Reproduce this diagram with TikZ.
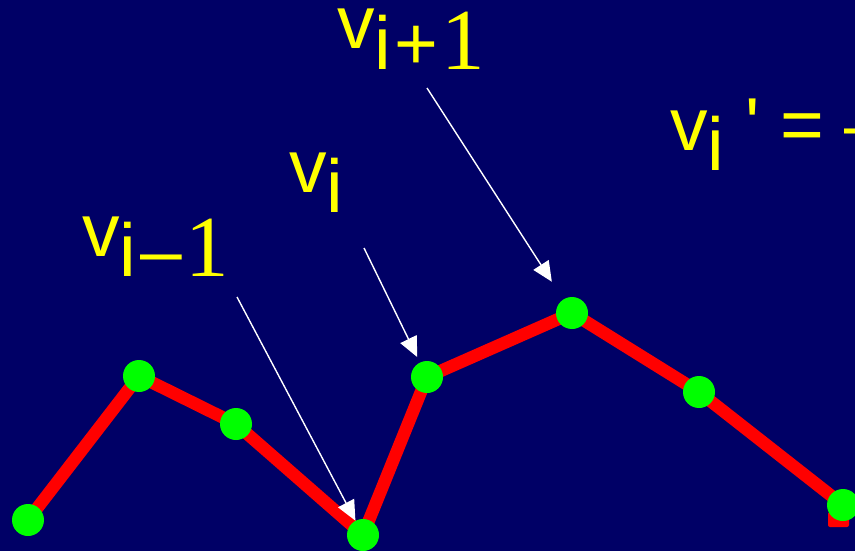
\documentclass[tikz,border=0pt]{standalone}
\usepackage{fontspec}
\usepackage{tikz}
\usetikzlibrary{
  arrows.meta,   % Triangle 箭头
  positioning    % 节点定位
}
\newfontfamily\labsans{Liberation Sans}
\newfontfamily\labserif{Liberation Serif}
\definecolor{slidebg}{RGB}{0,0,102}
\definecolor{dotgreen}{RGB}{0,255,0}
\definecolor{labyellow}{RGB}{255,255,0}
% 下标下沉
\newcommand{\lowsub}[1]{\raisebox{-20.5pt}{#1}}
\newcommand{\bigone}{{\labserif\fontsize{87}{87}\selectfont 1}}

\begin{document}
\begin{tikzpicture}[x=1pt, y=-1pt,
  redline/.style={line width=12.5pt, red, line join=miter},
  vdot/.style={circle, fill=dotgreen, minimum size=32pt, inner sep=0pt},
  ptr/.style={white, line width=1.4pt, -{Triangle[length=20pt, width=18pt]}},
  lab/.style={anchor=base west, inner sep=0pt, text=labyellow,
    font=\labsans\fontsize{75}{75}\selectfont}]
  % === 背景 ===
  \useasboundingbox (0,0) rectangle (855,551);
  \fill[slidebg] (0,0) rectangle (855,551);
  \clip (0,0) rectangle (855,551);

  % === 折线顶点 ===
  \coordinate (p1) at (28,520);
  \coordinate (p2) at (139,376);
  \coordinate (p3) at (236,424);
  \coordinate (p4) at (363,535);
  \coordinate (p5) at (427,377);
  \coordinate (p6) at (572,313);
  \coordinate (p7) at (699,392);
  \coordinate (p8) at (843,505);

  % 红色折线
  \draw[redline] (p1) -- (p2) -- (p3) -- (p4) -- (p5) -- (p6) -- (p7) -- (p8);
  \fill[red, rounded corners=2pt] (828,512) rectangle (849,527);

  % 绿色顶点
  \foreach \k in {1,...,8}
    \node[vdot] (v\k) at (p\k) {};

  % === 标签 ===
  \node[lab] (lprev) at (82,256) {v\lowsub{i\kern4pt–\kern3pt\bigone}};
  \node[lab] (lcur)  at (289,192) {v\lowsub{i}};
  \node[lab] (lnext) at (337,49) {v\lowsub{i\kern3pt+\kern3pt\bigone}};
  \node[lab] (lnew)  at (670,150) {v\lowsub{i} ' = –};

  % === 指示箭头 ===
  \coordinate (aprev) at (237,297);
  \coordinate (acur)  at (364,248);
  \coordinate (anext) at (427,88);
  \draw[ptr] (aprev) -- (v4);
  \draw[ptr, shorten >=6pt] (acur) -- (v5);
  \draw[ptr, shorten >=21pt] (anext) -- (v6);
\end{tikzpicture}
\end{document}
